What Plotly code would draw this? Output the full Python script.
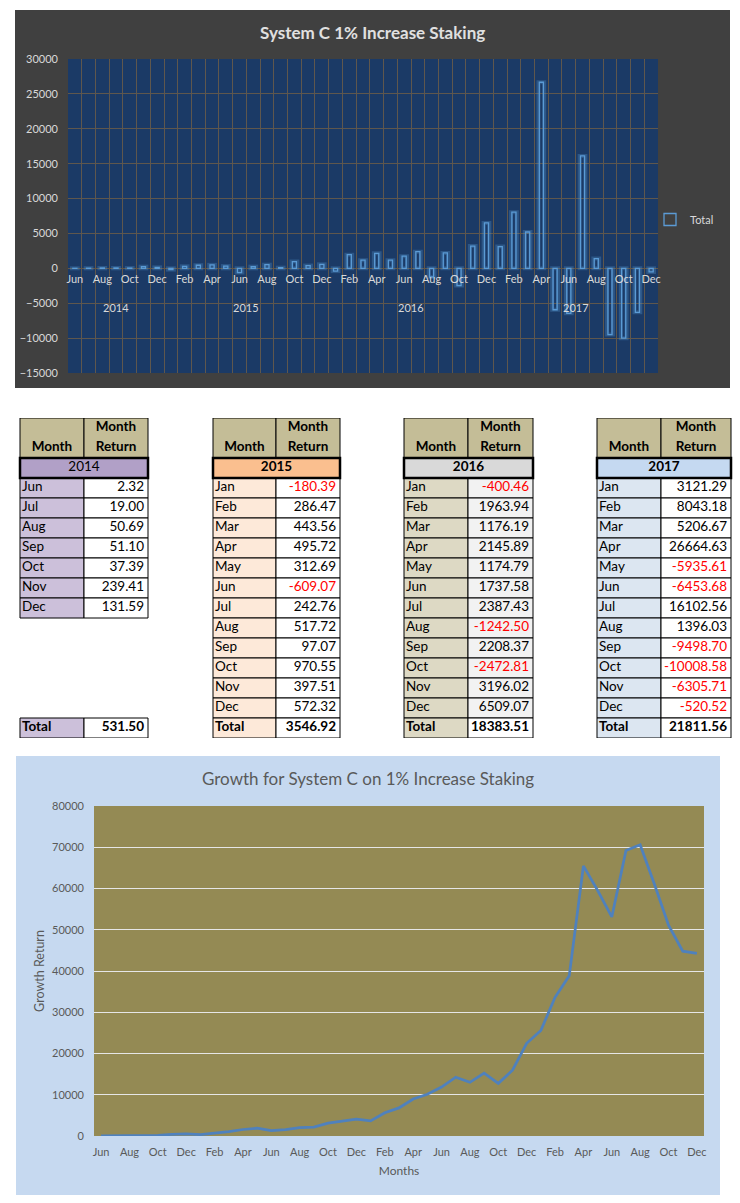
import numpy as np
import plotly.graph_objects as go

# ---------------- data ----------------
years = ["2014", "2015", "2016", "2017"]
months_2014 = ["Jun", "Jul", "Aug", "Sep", "Oct", "Nov", "Dec"]
months_full = ["Jan", "Feb", "Mar", "Apr", "May", "Jun", "Jul", "Aug", "Sep", "Oct", "Nov", "Dec"]
returns_2014 = [2.32, 19.00, 50.69, 51.10, 37.39, 239.41, 131.59]
returns_2015 = [-180.39, 286.47, 443.56, 495.72, 312.69, -609.07, 242.76, 517.72, 97.07, 970.55, 397.51, 572.32]
returns_2016 = [-400.46, 1963.94, 1176.19, 2145.89, 1174.79, 1737.58, 2387.43, -1242.50, 2208.37, -2472.81, 3196.02, 6509.07]
returns_2017 = [3121.29, 8043.18, 5206.67, 26664.63, -5935.61, -6453.68, 16102.56, 1396.03, -9498.70, -10008.58, -6305.71, -520.52]
totals = [531.50, 3546.92, 18383.51, 21811.56]

year_months = [months_2014, months_full, months_full, months_full]
year_returns = [returns_2014, returns_2015, returns_2016, returns_2017]

all_months = [m for ms in year_months for m in ms]
all_returns = [v for vs in year_returns for v in vs]
idx = np.arange(len(all_returns))
growth = np.cumsum(all_returns)  # cumulative growth line
label_idx = idx[::2]
label_txt = [all_months[i] for i in label_idx]

W, H = 740, 1203
FONT = "Lato"
TFS = 13.5  # table font size
AFS = 11    # axis font size


def fx(p):
    return p / W


def fy(p):
    return 1 - p / H


fig = go.Figure()

# ---------------- top bar chart ----------------
bar_y_rng = [-15000, 30000]
top_dom = [fy(373), fy(59)]
zero_frac = top_dom[0] + (0 - bar_y_rng[0]) / (bar_y_rng[1] - bar_y_rng[0]) * (top_dom[1] - top_dom[0])

fig.add_trace(go.Bar(x=idx, y=all_returns, width=0.42, marker=dict(color="rgba(0,0,0,0)",
                     line=dict(color="rgba(91,155,213,0.3)", width=4)),
                     showlegend=False, hoverinfo="skip", xaxis="x", yaxis="y"))
fig.add_trace(go.Bar(x=idx, y=all_returns, width=0.3, name="Total",
                     marker=dict(color="rgba(0,0,0,0)", line=dict(color="#5b9bd5", width=1.3)),
                     xaxis="x", yaxis="y"))
# carrier for month labels axis
fig.add_trace(go.Scatter(x=label_idx, y=[0] * len(label_idx), mode="markers",
                         marker=dict(opacity=0), showlegend=False, hoverinfo="skip",
                         xaxis="x2", yaxis="y"))

# year labels under the month labels
year_centers = []
start = 0
for ms in year_months:
    year_centers.append(start + (len(ms) - 1) / 2)
    start += len(ms)

annotations = []
for yc, yr in zip(year_centers, years):
    annotations.append(dict(x=yc, y=0, xref="x", yref="y", yshift=-39, text=yr, showarrow=False,
                            yanchor="middle", font=dict(color="#d9d9d9", size=AFS, family=FONT)))
annotations.append(dict(x=fx(372), y=fy(32), xref="paper", yref="paper", text="<b>System C 1% Increase Staking</b>",
                        showarrow=False, xanchor="center", yanchor="middle",
                        font=dict(color="#e0e0e0", size=17, family=FONT)))

# ---------------- bottom line chart ----------------
fig.add_trace(go.Scatter(x=idx, y=growth, mode="lines", line=dict(color="#4f81bd", width=2.75),
                         showlegend=False, xaxis="x3", yaxis="y3"))
annotations.append(dict(x=fx(368), y=fy(778), xref="paper", yref="paper",
                        text="Growth for System C on 1% Increase Staking", showarrow=False,
                        xanchor="center", yanchor="middle",
                        font=dict(color="#595959", size=17, family=FONT)))

# ---------------- tables ----------------
t_left = [20, 213, 404, 597]
t_cols = [[64, 64], [63, 64], [64, 65], [64, 70]]
year_fill = ["#b1a0c7", "#fabf8f", "#d9d9d9", "#c5d9f1"]
month_fill = ["#ccc0da", "#fde9d9", "#ddd9c4", "#dce6f1"]
value_fill = ["#ffffff", "#ffffff", "#f2f2f2", "#ffffff"]
year_bold = [False, True, True, True]
HEADER_FILL = "#c4bd97"

shapes = []
# background boxes
shapes.append(dict(type="rect", xref="paper", yref="paper", x0=fx(15), x1=fx(730), y0=fy(388), y1=fy(10),
                   fillcolor="#404040", line=dict(width=0), layer="below"))
shapes.append(dict(type="rect", xref="x domain", yref="y domain", x0=0, x1=1, y0=0, y1=1,
                   fillcolor="#1b3a66", line=dict(width=0), layer="below"))
shapes.append(dict(type="rect", xref="paper", yref="paper", x0=fx(16), x1=fx(720), y0=fy(1195), y1=fy(756),
                   fillcolor="#c6d9f0", line=dict(width=0), layer="below"))
shapes.append(dict(type="rect", xref="x3 domain", yref="y3 domain", x0=0, x1=1, y0=0, y1=1,
                   fillcolor="#948a54", line=dict(width=0), layer="below"))


def cell(x0, x1, r0, r1, fill, lw=1):
    shapes.append(dict(type="rect", xref="x4", yref="y4", x0=x0, x1=x1, y0=r0, y1=r1,
                       fillcolor=fill, line=dict(color="black", width=lw), layer="below"))


HEADER_ROWS = 2
TOTAL_ROW = HEADER_ROWS + 1 + 12
for t in range(4):
    L = t_left[t]
    c0, c1 = t_cols[t]
    xm, xr = L + c0, L + c0 + c1
    cell(L, xm, 0, HEADER_ROWS, HEADER_FILL)
    cell(xm, xr, 0, HEADER_ROWS, HEADER_FILL)
    n = len(year_months[t])
    for k in range(n):
        r = HEADER_ROWS + 1 + k
        cell(L, xm, r, r + 1, month_fill[t])
        cell(xm, xr, r, r + 1, value_fill[t])
    cell(L, xm, TOTAL_ROW, TOTAL_ROW + 1, month_fill[t])
    cell(xm, xr, TOTAL_ROW, TOTAL_ROW + 1, "#ffffff")
    cell(L, xr, HEADER_ROWS, HEADER_ROWS + 1, year_fill[t], lw=2.5)

    tx, ty, tt, tc, tp = [], [], [], [], []
    tx += [(L + xm) / 2, (xm + xr) / 2, (xm + xr) / 2]
    ty += [1.5, 0.47, 1.47]
    tt += ["<b>Month</b>", "<b>Month</b>", "<b>Return</b>"]
    tc += ["black"] * 3
    tp += ["middle center"] * 3
    tx.append((L + xr) / 2)
    ty.append(HEADER_ROWS + 0.5)
    tt.append(f"<b>{years[t]}</b>" if year_bold[t] else years[t])
    tc.append("black")
    tp.append("middle center")
    for k, (m, v) in enumerate(zip(year_months[t], year_returns[t])):
        r = HEADER_ROWS + 1 + k + 0.5
        tx += [L + 2, xr - 4]
        ty += [r, r]
        tt += [m, f"{v:.2f}"]
        tc += ["black", "#ff0000" if v < 0 else "black"]
        tp += ["middle right", "middle left"]
    tx += [L + 2, xr - 4]
    ty += [TOTAL_ROW + 0.5] * 2
    tt += ["<b>Total</b>", f"<b>{totals[t]:.2f}</b>"]
    tc += ["black", "black"]
    tp += ["middle right", "middle left"]
    fig.add_trace(go.Scatter(x=tx, y=ty, mode="text", text=tt, textposition=tp,
                             textfont=dict(color=tc, size=TFS, family=FONT), cliponaxis=False,
                             showlegend=False, hoverinfo="skip", xaxis="x4", yaxis="y4"))

GRID_TOP = "#5f574d"
fig.update_layout(
    width=W, height=H, margin=dict(l=0, r=0, t=0, b=0, autoexpand=False),
    paper_bgcolor="white", plot_bgcolor="rgba(0,0,0,0)",
    barmode="overlay", font=dict(family=FONT),
    showlegend=True,
    legend=dict(x=fx(650), y=fy(205), xanchor="left", yanchor="top", bgcolor="rgba(0,0,0,0)",
                font=dict(color="#d9d9d9", size=AFS, family=FONT)),
    xaxis=dict(domain=[fx(68), fx(658)], range=[-0.5, len(idx) - 0.5], tick0=-0.5, dtick=1,
               showgrid=True, gridcolor=GRID_TOP, gridwidth=1, showticklabels=False,
               zeroline=False, anchor="y", showline=False, automargin=False),
    xaxis2=dict(overlaying="x", anchor="free", position=zero_frac, range=[-0.5, len(idx) - 0.5],
                tickvals=label_idx, ticktext=label_txt, showgrid=False, zeroline=False, ticks="",
                tickfont=dict(color="#d9d9d9", size=AFS, family=FONT), side="bottom", ticklabelstandoff=3,
                automargin=False),
    yaxis=dict(domain=top_dom, range=bar_y_rng, dtick=5000, tick0=0, showgrid=True, gridcolor=GRID_TOP,
               zeroline=False, tickformat="d", tickfont=dict(color="#d9d9d9", size=AFS, family=FONT), anchor="x",
               ticklabelstandoff=9, automargin=False),
    xaxis3=dict(domain=[fx(94), fx(704)], range=[-0.5, len(idx) - 0.5], tickvals=label_idx, ticktext=label_txt,
                showgrid=False, zeroline=False, anchor="y3", ticks="", automargin=False,
                tickfont=dict(color="#595959", size=AFS, family=FONT), ticklabelstandoff=8,
                title=dict(text="Months", font=dict(color="#595959", size=12, family=FONT), standoff=9)),
    yaxis3=dict(domain=[fy(1136), fy(806)], range=[0, 80000], dtick=10000, showgrid=True, gridcolor="#e6e6e6",
                zeroline=False, tickformat="d", anchor="x3", tickfont=dict(color="#595959", size=AFS, family=FONT),
                ticklabelstandoff=9, automargin=False,
                title=dict(text="Growth Return", font=dict(color="#595959", size=12.5, family=FONT), standoff=4)),
    xaxis4=dict(domain=[0, 1], range=[0, W], visible=False, anchor="y4", automargin=False),
    yaxis4=dict(domain=[fy(738), fy(418)], range=[TOTAL_ROW + 1, 0], visible=False, anchor="x4", automargin=False),
    shapes=shapes, annotations=annotations,
)

fig.write_html("out.html", config={"displayModeBar": False},
               post_script="document.body.style.margin='0';document.documentElement.style.overflow='hidden';")
